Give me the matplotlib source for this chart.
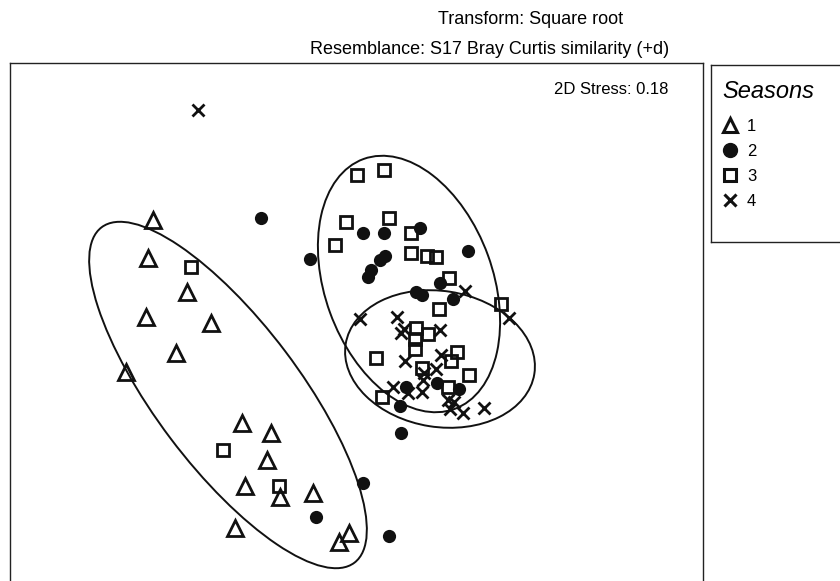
import matplotlib
matplotlib.use("Agg")
import matplotlib.pyplot as plt
from matplotlib.patches import Ellipse
from matplotlib.lines import Line2D

plt.rcParams["font.family"] = ["Liberation Sans", "DejaVu Sans"]

# NMDS ordination scores (arbitrary units)
s1_x = [153, 148, 187, 146, 211, 176, 126, 242, 271, 267, 245, 280, 313, 235, 349, 339]
s1_y = [220, 258, 292, 317, 323, 353, 372, 423, 433, 460, 486, 497, 493, 528, 533, 542]

s2_x = [261, 310, 363, 384, 420, 468, 385, 380, 371, 368, 416, 422, 440, 453,
        406, 437, 459, 400, 401, 363, 316, 389]
s2_y = [218, 259, 233, 233, 228, 251, 256, 260, 270, 277, 292, 295, 283, 299,
        387, 383, 389, 406, 433, 483, 517, 536]

s3_x = [191, 223, 279, 357, 384, 346, 389, 335, 411, 411, 427, 436, 449, 439,
        501, 416, 428, 415, 415, 376, 457, 451, 422, 469, 448, 382]
s3_y = [267, 450, 486, 175, 170, 222, 218, 245, 233, 253, 256, 257, 278, 309,
        304, 328, 334, 339, 349, 358, 352, 361, 368, 375, 387, 397]

s4_x = [198, 465, 360, 397, 404, 401, 440, 509, 405, 441, 436, 424, 423, 422,
        393, 408, 448, 454, 450, 463, 484]
s4_y = [110, 291, 319, 317, 329, 333, 330, 318, 361, 355, 369, 373, 380, 392,
        387, 393, 400, 402, 409, 413, 408]

# group ellipses: centre x, centre y, width, height, angle
ell_cx = [228, 409, 440]
ell_cy = [395, 284, 359]
ell_w = [420, 266, 191]
ell_h = [144, 168, 136]
ell_ang = [53, 70, 9]

season_labels = ["1", "2", "3", "4"]

fig = plt.figure(figsize=(8.4, 5.81), dpi=100)
W, H = 840, 581

# main ordination panel (bottom edge runs off the figure)
ax = fig.add_axes([10 / W, -0.1, 693 / W, (H - 63) / H + 0.1])
ax.set_xlim(10, 703)
ax.set_ylim(63 + 518 + 0.1 * H, 63)
ax.set_xticks([])
ax.set_yticks([])
for sp in ax.spines.values():
    sp.set_linewidth(1.0)
    sp.set_color("#222222")

ms_kw = dict(linestyle="none", color="#111111")
ax.plot(s1_x, s1_y, marker="^", ms=11.5, mfc="none", mew=2.0, **ms_kw)
ax.plot(s2_x, s2_y, marker="o", ms=9.5, mfc="#111111", mew=0, **ms_kw)
ax.plot(s3_x, s3_y, marker="s", ms=8.5, mfc="none", mew=2.0, **ms_kw)
ax.plot(s4_x, s4_y, marker="x", ms=8.5, mew=2.0, **ms_kw)

for cx, cy, w, h, a in zip(ell_cx, ell_cy, ell_w, ell_h, ell_ang):
    ax.add_patch(Ellipse((cx, cy), w, h, angle=a, fill=False, lw=1.4, color="#111111"))

ax.text(0.95, 0.967, "2D Stress: 0.18", transform=ax.transAxes, ha="right", va="top",
        fontsize=12)

fig.text(438 / W, 1 - 20 / H, "Transform: Square root", ha="left", va="center", fontsize=13)
fig.text(310 / W, 1 - 49 / H, "Resemblance: S17 Bray Curtis similarity (+d)",
         ha="left", va="center", fontsize=13)

# legend panel
lax = fig.add_axes([711 / W, 1 - 242 / H, 0.2, 177 / H])
lax.set_xticks([])
lax.set_yticks([])
for sp in lax.spines.values():
    sp.set_linewidth(1.0)
    sp.set_color("#222222")

lax.text(0.065, 0.853, "Seasons", transform=lax.transAxes, ha="left", va="center",
         fontsize=17, fontstyle="italic")

handles = [
    Line2D([], [], marker="^", ms=10, mfc="none", mew=2.2, color="#111111", ls="none"),
    Line2D([], [], marker="o", ms=10, color="#111111", ls="none"),
    Line2D([], [], marker="s", ms=8, mfc="none", mew=2.2, color="#111111", ls="none"),
    Line2D([], [], marker="x", ms=8, mew=2.2, color="#111111", ls="none"),
]
lax.legend(handles, season_labels, loc="upper left",
           bbox_to_anchor=(0.03, 0.735), frameon=False, fontsize=12,
           handlelength=0.9, handletextpad=0.55, labelspacing=0.6,
           borderaxespad=0.0)

fig.savefig("out.png", dpi=100)
